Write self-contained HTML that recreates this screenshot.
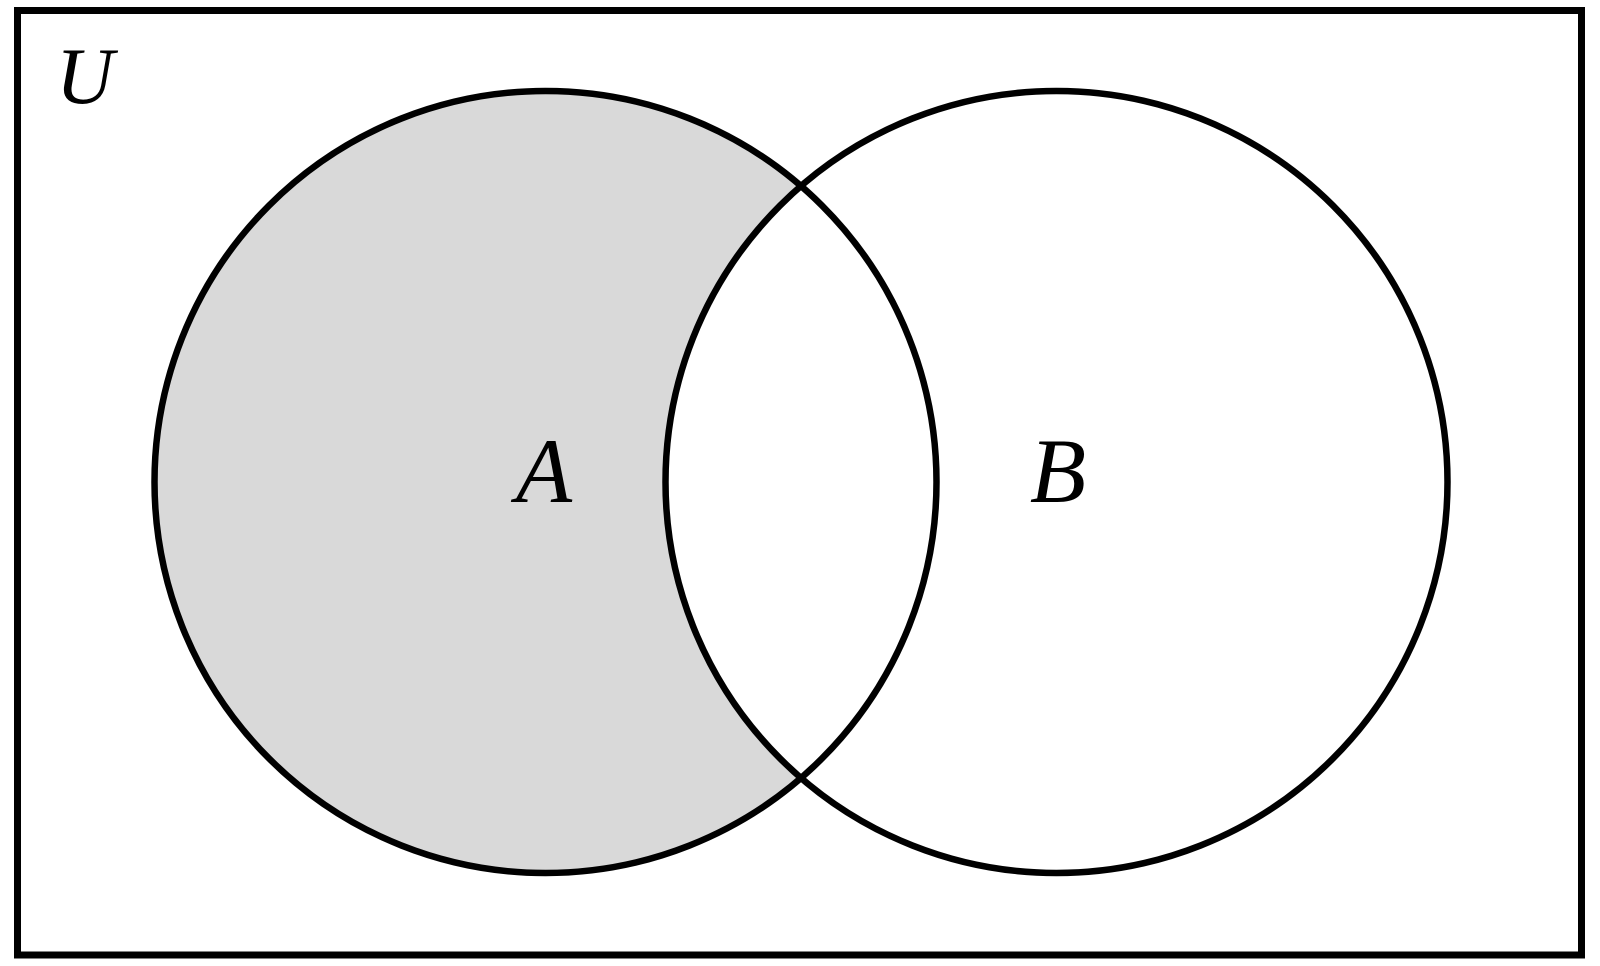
<!DOCTYPE html>
<html><head><meta charset="utf-8"><style>
html,body{margin:0;padding:0;background:#fff;}
svg{display:block}
.t{font-family:"Liberation Serif","Times New Roman",Times,serif;font-style:italic;fill:#000}
</style></head><body>
<svg width="1600" height="966" viewBox="0 0 1600 966" xmlns="http://www.w3.org/2000/svg">
<defs>
<clipPath id="notB"><path d="M0 0H1600V966H0Z M1056.5 482 m-391 0 a391 391 0 1 0 782 0 a391 391 0 1 0 -782 0Z" clip-rule="evenodd"/></clipPath>
</defs>
<rect x="17.5" y="10.5" width="1564" height="944.5" fill="#fff" stroke="#000" stroke-width="7"/>
<circle cx="545.5" cy="482" r="391" fill="#d9d9d9" clip-path="url(#notB)"/>
<circle cx="545.5" cy="482" r="391" fill="none" stroke="#000" stroke-width="6.5"/>
<circle cx="1056.5" cy="482" r="391" fill="none" stroke="#000" stroke-width="6.5"/>
<text class="t" font-family="Liberation Serif, serif" font-style="italic" x="544" y="502" font-size="92" text-anchor="middle">A</text>
<text class="t" font-family="Liberation Serif, serif" font-style="italic" x="1058" y="502" font-size="92" text-anchor="middle">B</text>
<text class="t" font-family="Liberation Serif, serif" font-style="italic" x="56" y="103" font-size="80">U</text>
</svg>
</body></html>
